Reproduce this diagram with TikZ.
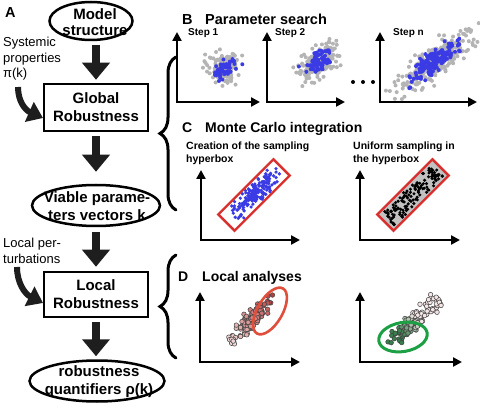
\documentclass[tikz,border=0pt]{standalone}
\usepackage{fontspec}
\setmainfont{Liberation Sans}
\usetikzlibrary{arrows.meta,shapes.geometric,decorations.pathreplacing}
\definecolor{arr}{HTML}{1E1E1E}
\definecolor{ptgray}{HTML}{B4B4B4}
\definecolor{ptblue}{HTML}{3B3BE6}
\definecolor{boxred}{HTML}{D8302E}
\definecolor{ellred}{HTML}{E04E3C}
\definecolor{ellgreen}{HTML}{1CA043}
\definecolor{dred}{HTML}{B02828}
\definecolor{dgreen}{HTML}{2F7A45}
\definecolor{pinkw}{HTML}{F4E6E6}
\definecolor{boxgray}{HTML}{C2C2C2}
\newcommand\scat[8]{%
  \foreach \i in {1,...,#6}{%
    \pgfmathsetmacro\uu{(rand+rand+rand)*#3}%
    \pgfmathsetmacro\vv{(rand+rand+rand)*#4}%
    \pgfmathsetmacro\ptx{#1+\uu*cos(#5)-\vv*sin(#5)}%
    \pgfmathsetmacro\pty{#2-\uu*sin(#5)-\vv*cos(#5)}%
    \fill[#8] (\ptx,\pty) circle[radius=#7pt];%
  }}
\begin{document}
\begin{tikzpicture}[x=1pt,y=-1pt,
  mainarrow/.style={draw=arr, line width=8.5pt, -{Triangle[length=17pt,width=27pt]}},
  curvearrow/.style={draw=arr, line width=6pt, -{Triangle[length=15pt,width=21pt]}},
  maintext/.style={font=\bfseries\fontsize{15}{18}\selectfont, align=center, inner sep=0pt},
  flowbox/.style={draw=black, line width=2.5pt, minimum width=104pt, minimum height=47pt, maintext},
  flowell/.style={ellipse, draw=black, line width=2.5pt, inner sep=0pt},
  axis/.style={line width=2.6pt, {Triangle[length=9pt,width=9pt]}-{Triangle[length=9pt,width=9pt]}},
  bracket/.style={line width=3pt, line cap=round, decorate, decoration={brace, amplitude=16pt}},
  title/.style={font=\bfseries\fontsize{14.5}{17}\selectfont, anchor=base west, inner sep=0pt},
  steplabel/.style={font=\bfseries\fontsize{10}{12}\selectfont, anchor=base west, inner sep=0pt},
  sublabel/.style={font=\bfseries\fontsize{10.5}{13}\selectfont, anchor=north west, align=left, inner sep=0pt},
  sidetext/.style={font=\fontsize{13}{15.5}\selectfont, anchor=north west, align=left, inner sep=0pt}]
\pgfmathsetseed{11}
\fill[white] (0,0) rectangle (480,409);
\useasboundingbox (0,0) rectangle (480,409);

% ---------- Part A ----------
\node[title] (labA) at (5,18) {A};
\node[flowell, minimum width=83pt, minimum height=38pt] (model) at (91,21) {};
\node[maintext, font=\bfseries\fontsize{15}{16.5}\selectfont] (modeltxt) at (95,22) {Model\\structure};
\node[flowbox] (global) at (96,107.5) {Global\\Robustness};
\node[flowell, minimum width=128pt, minimum height=41pt] (viable) at (96,205.5) {};
\node[maintext] (viabletxt) at (97,206) {Viable parame-\\ters vectors k};
\node[flowbox, minimum height=45pt] (local) at (96,294.5) {Local\\Robustness};
\node[flowell, minimum width=135pt, minimum height=41pt] (quant) at (97,381) {};
\node[maintext] (quanttxt) at (99,382) {robustness\\quantifiers ρ(k)};

\node[sidetext] (sys) at (3,37) {Systemic\\properties\\π(k)};
\node[sidetext] (pert) at (3,238) {Local per-\\turbations};

\draw[mainarrow, shorten <=4pt, shorten >=3pt] (global.north |- model.south) -- (global.north);
\draw[mainarrow, shorten <=4pt, shorten >=12pt] (global.south) -- (viable.north -| global.south);
\draw[mainarrow, shorten <=5pt, shorten >=4pt] (viable.south -| local.north) -- (local.north);
\draw[mainarrow, shorten <=4pt, shorten >=3pt] (local.south) -- (quant.north -| local.south);

\coordinate (sysfoot) at (18,87);
\coordinate (systip) at (43,118);
\draw[curvearrow] (sysfoot) .. controls (18,101) and (25,110) .. (systip);
\coordinate (pertfoot) at (17,267);
\coordinate (perttip) at (43,303);
\draw[curvearrow] (pertfoot) .. controls (17,283) and (25,294) .. (perttip);

% braces
\coordinate (b1top) at (176,57);
\coordinate (b1bot) at (176,210);
\draw[bracket] (b1bot) -- (b1top);
\coordinate (b2top) at (176,255);
\coordinate (b2bot) at (176,358);
\draw[bracket] (b2bot) -- (b2top);

% ---------- Part B ----------
\node[title] (labB) at (182,25) {B};
\node[title] (titB) at (205,25) {Parameter search};
\draw[axis] (177,32) -- (177,102) -- (260,102);
\draw[axis] (267,32) -- (267,102) -- (345,102);
\draw[axis] (380,32) -- (380,102) -- (477,102);
\node[steplabel] (s1) at (188,36) {Step 1};
\node[steplabel] (s2) at (275,36) {Step 2};
\node[steplabel] (sn) at (393,36) {Step n};
\scat{222}{67}{7.5}{7.5}{0}{120}{2}{ptgray}
\scat{225}{68}{7}{3.8}{35}{50}{2}{ptblue}
\scat{318}{62}{12}{7}{40}{140}{2}{ptgray}
\scat{318}{62}{8}{4}{40}{70}{2}{ptblue}
\scat{434}{62}{22}{7}{40}{260}{2}{ptgray}
\scat{434}{62}{16}{4.5}{40}{150}{2}{ptblue}
\fill (353,82) circle[radius=2pt] (363,82) circle[radius=2pt] (373,82) circle[radius=2pt];

% ---------- Part C ----------
\node[title, font=\bfseries\fontsize{14}{17}\selectfont] (labC) at (182,133) {C};
\node[title, font=\bfseries\fontsize{14}{17}\selectfont] (titC) at (205,133) {Monte Carlo integration};
\node[sublabel] (c1lab) at (186,142) {Creation of the sampling\\hyperbox};
\node[sublabel] (c2lab) at (353,142) {Uniform sampling in\\the hyperbox};
\draw[axis] (201,170) -- (201,240) -- (300,240);
\draw[axis] (360,170) -- (360,240) -- (460,240);
\foreach \i in {1,...,190}{%
  \pgfmathsetmacro\uu{18*(rand+rand)}%
  \pgfmathsetmacro\vv{max(-9,min(9,4.2*(rand+rand+rand)))}%
  \pgfmathsetmacro\ptx{254+\uu*cos(45)-\vv*sin(45)}%
  \pgfmathsetmacro\pty{195-\uu*sin(45)-\vv*cos(45)}%
  \fill[ptblue] (\ptx,\pty) circle[radius=1.8pt];%
}
\draw[boxred, line width=2.4pt, rotate around={45:(254,195)}] (215,183.5) rectangle (293,206.5);
\fill[boxgray, rotate around={45:(413,195)}] (374,184) rectangle (452,206);
\foreach \i in {1,...,130}{%
  \pgfmathsetmacro\uu{35*rand}%
  \pgfmathsetmacro\vv{8.5*rand}%
  \pgfmathsetmacro\ptx{413+\uu*cos(45)-\vv*sin(45)}%
  \pgfmathsetmacro\pty{195-\uu*sin(45)-\vv*cos(45)}%
  \fill[black] (\ptx,\pty) circle[radius=1.7pt];%
}
\draw[boxred, line width=2.4pt, rotate around={45:(413,195)}] (374,183.5) rectangle (452,206.5);

% ---------- Part D ----------
\node[title, font=\bfseries\fontsize{14}{17}\selectfont] (labD) at (178,282) {D};
\node[title, font=\bfseries\fontsize{14}{17}\selectfont] (titD) at (202,282) {Local analyses};
\draw[axis] (200,292) -- (200,362) -- (300,362);
\draw[axis] (360,292) -- (360,362) -- (462,362);
\foreach \i in {1,...,120}{%
  \pgfmathsetmacro\ttv{(rand+rand)/2}%
  \pgfmathsetmacro\uu{\ttv*37}%
  \pgfmathsetmacro\vv{(rand+rand+rand)*3.8}%
  \pgfmathsetmacro\ptx{251+\uu*cos(47)-\vv*sin(47)}%
  \pgfmathsetmacro\pty{320-\uu*sin(47)-\vv*cos(47)}%
  \pgfmathtruncatemacro\pc{10+85*(\ttv+1)/2}%
  \filldraw[draw=black!75, line width=0.5pt, fill=dred!\pc!white] (\ptx,\pty) circle[radius=2.3pt];%
}
\draw[ellred, line width=2.6pt, rotate around={60:(270,311)}] (270,311) ellipse[x radius=26pt, y radius=12.5pt];
\foreach \i in {1,...,120}{%
  \pgfmathsetmacro\ttv{(rand+rand)/2}%
  \pgfmathsetmacro\uu{\ttv*37}%
  \pgfmathsetmacro\vv{(rand+rand+rand)*3.8}%
  \pgfmathsetmacro\ptx{415+\uu*cos(44)-\vv*sin(44)}%
  \pgfmathsetmacro\pty{321-\uu*sin(44)-\vv*cos(44)}%
  \pgfmathtruncatemacro\pc{max(0,min(95,(0.1-\ttv)*160))}%
  \filldraw[draw=black!75, line width=0.5pt, fill=dgreen!\pc!pinkw] (\ptx,\pty) circle[radius=2.3pt];%
}
\draw[ellgreen, line width=3pt, rotate around={10:(403,337)}] (403,337) ellipse[x radius=24.5pt, y radius=14.5pt];
\end{tikzpicture}
\end{document}
